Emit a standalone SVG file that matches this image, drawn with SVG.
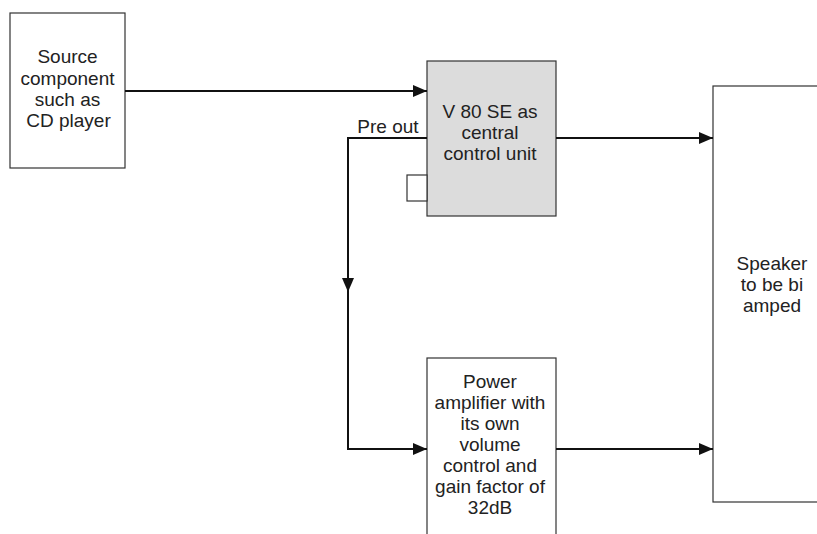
<svg xmlns="http://www.w3.org/2000/svg" width="817" height="534" viewBox="0 0 817 534">
<defs>
<marker id="ah" viewBox="0 0 14 12" refX="14" refY="6" markerWidth="14" markerHeight="12" markerUnits="userSpaceOnUse" orient="auto">
<path d="M0,0 L14,6 L0,12 Z" fill="#111"/>
</marker>
</defs>
<style>
.box{fill:#fff;stroke:#333;stroke-width:1.2}
.gray{fill:#dcdcdc}
.t{font-family:"Liberation Sans",Arial,sans-serif;font-size:19px;fill:#222;text-anchor:middle}
.c{fill:none;stroke:#111;stroke-width:2}
</style>
<rect width="817" height="534" fill="#fff"/>
<g id="source">
<rect class="box" x="10" y="13" width="115" height="155"/>
<text class="t"><tspan x="67.5" y="63">Source</tspan><tspan x="67.5" y="85">component</tspan><tspan x="67.5" y="106">such as</tspan><tspan x="68.5" y="127">CD player</tspan></text>
</g>
<g id="v80">
<rect class="box gray" x="427" y="61" width="129" height="155"/>
<rect class="box" x="407" y="175" width="20" height="26"/>
<text class="t"><tspan x="490" y="118">V 80 SE as</tspan><tspan x="490" y="139">central</tspan><tspan x="490" y="160">control unit</tspan></text>
</g>
<g id="power">
<rect class="box" x="427" y="358" width="129" height="190"/>
<text class="t"><tspan x="490" y="388">Power</tspan><tspan x="490" y="409">amplifier with</tspan><tspan x="490" y="430">its own</tspan><tspan x="490" y="451">volume</tspan><tspan x="490" y="472">control and</tspan><tspan x="490" y="493">gain factor of</tspan><tspan x="490" y="514">32dB</tspan></text>
</g>
<g id="speaker">
<rect class="box" x="713" y="86" width="120" height="416"/>
<text class="t"><tspan x="772" y="270">Speaker</tspan><tspan x="772" y="291">to be bi</tspan><tspan x="772" y="312">amped</tspan></text>
</g>
<g id="connectors">
<line class="c" x1="125" y1="91" x2="427" y2="91" marker-end="url(#ah)"/>
<line class="c" x1="556" y1="138" x2="713" y2="138" marker-end="url(#ah)"/>
<line class="c" x1="427" y1="138" x2="348" y2="138"/>
<line class="c" x1="348" y1="137" x2="348" y2="292" marker-end="url(#ah)"/>
<polyline class="c" points="348,290 348,449 427,449" marker-end="url(#ah)"/>
<line class="c" x1="556" y1="449" x2="713" y2="449" marker-end="url(#ah)"/>
<text class="t" x="388" y="133">Pre out</text>
</g>
</svg>
